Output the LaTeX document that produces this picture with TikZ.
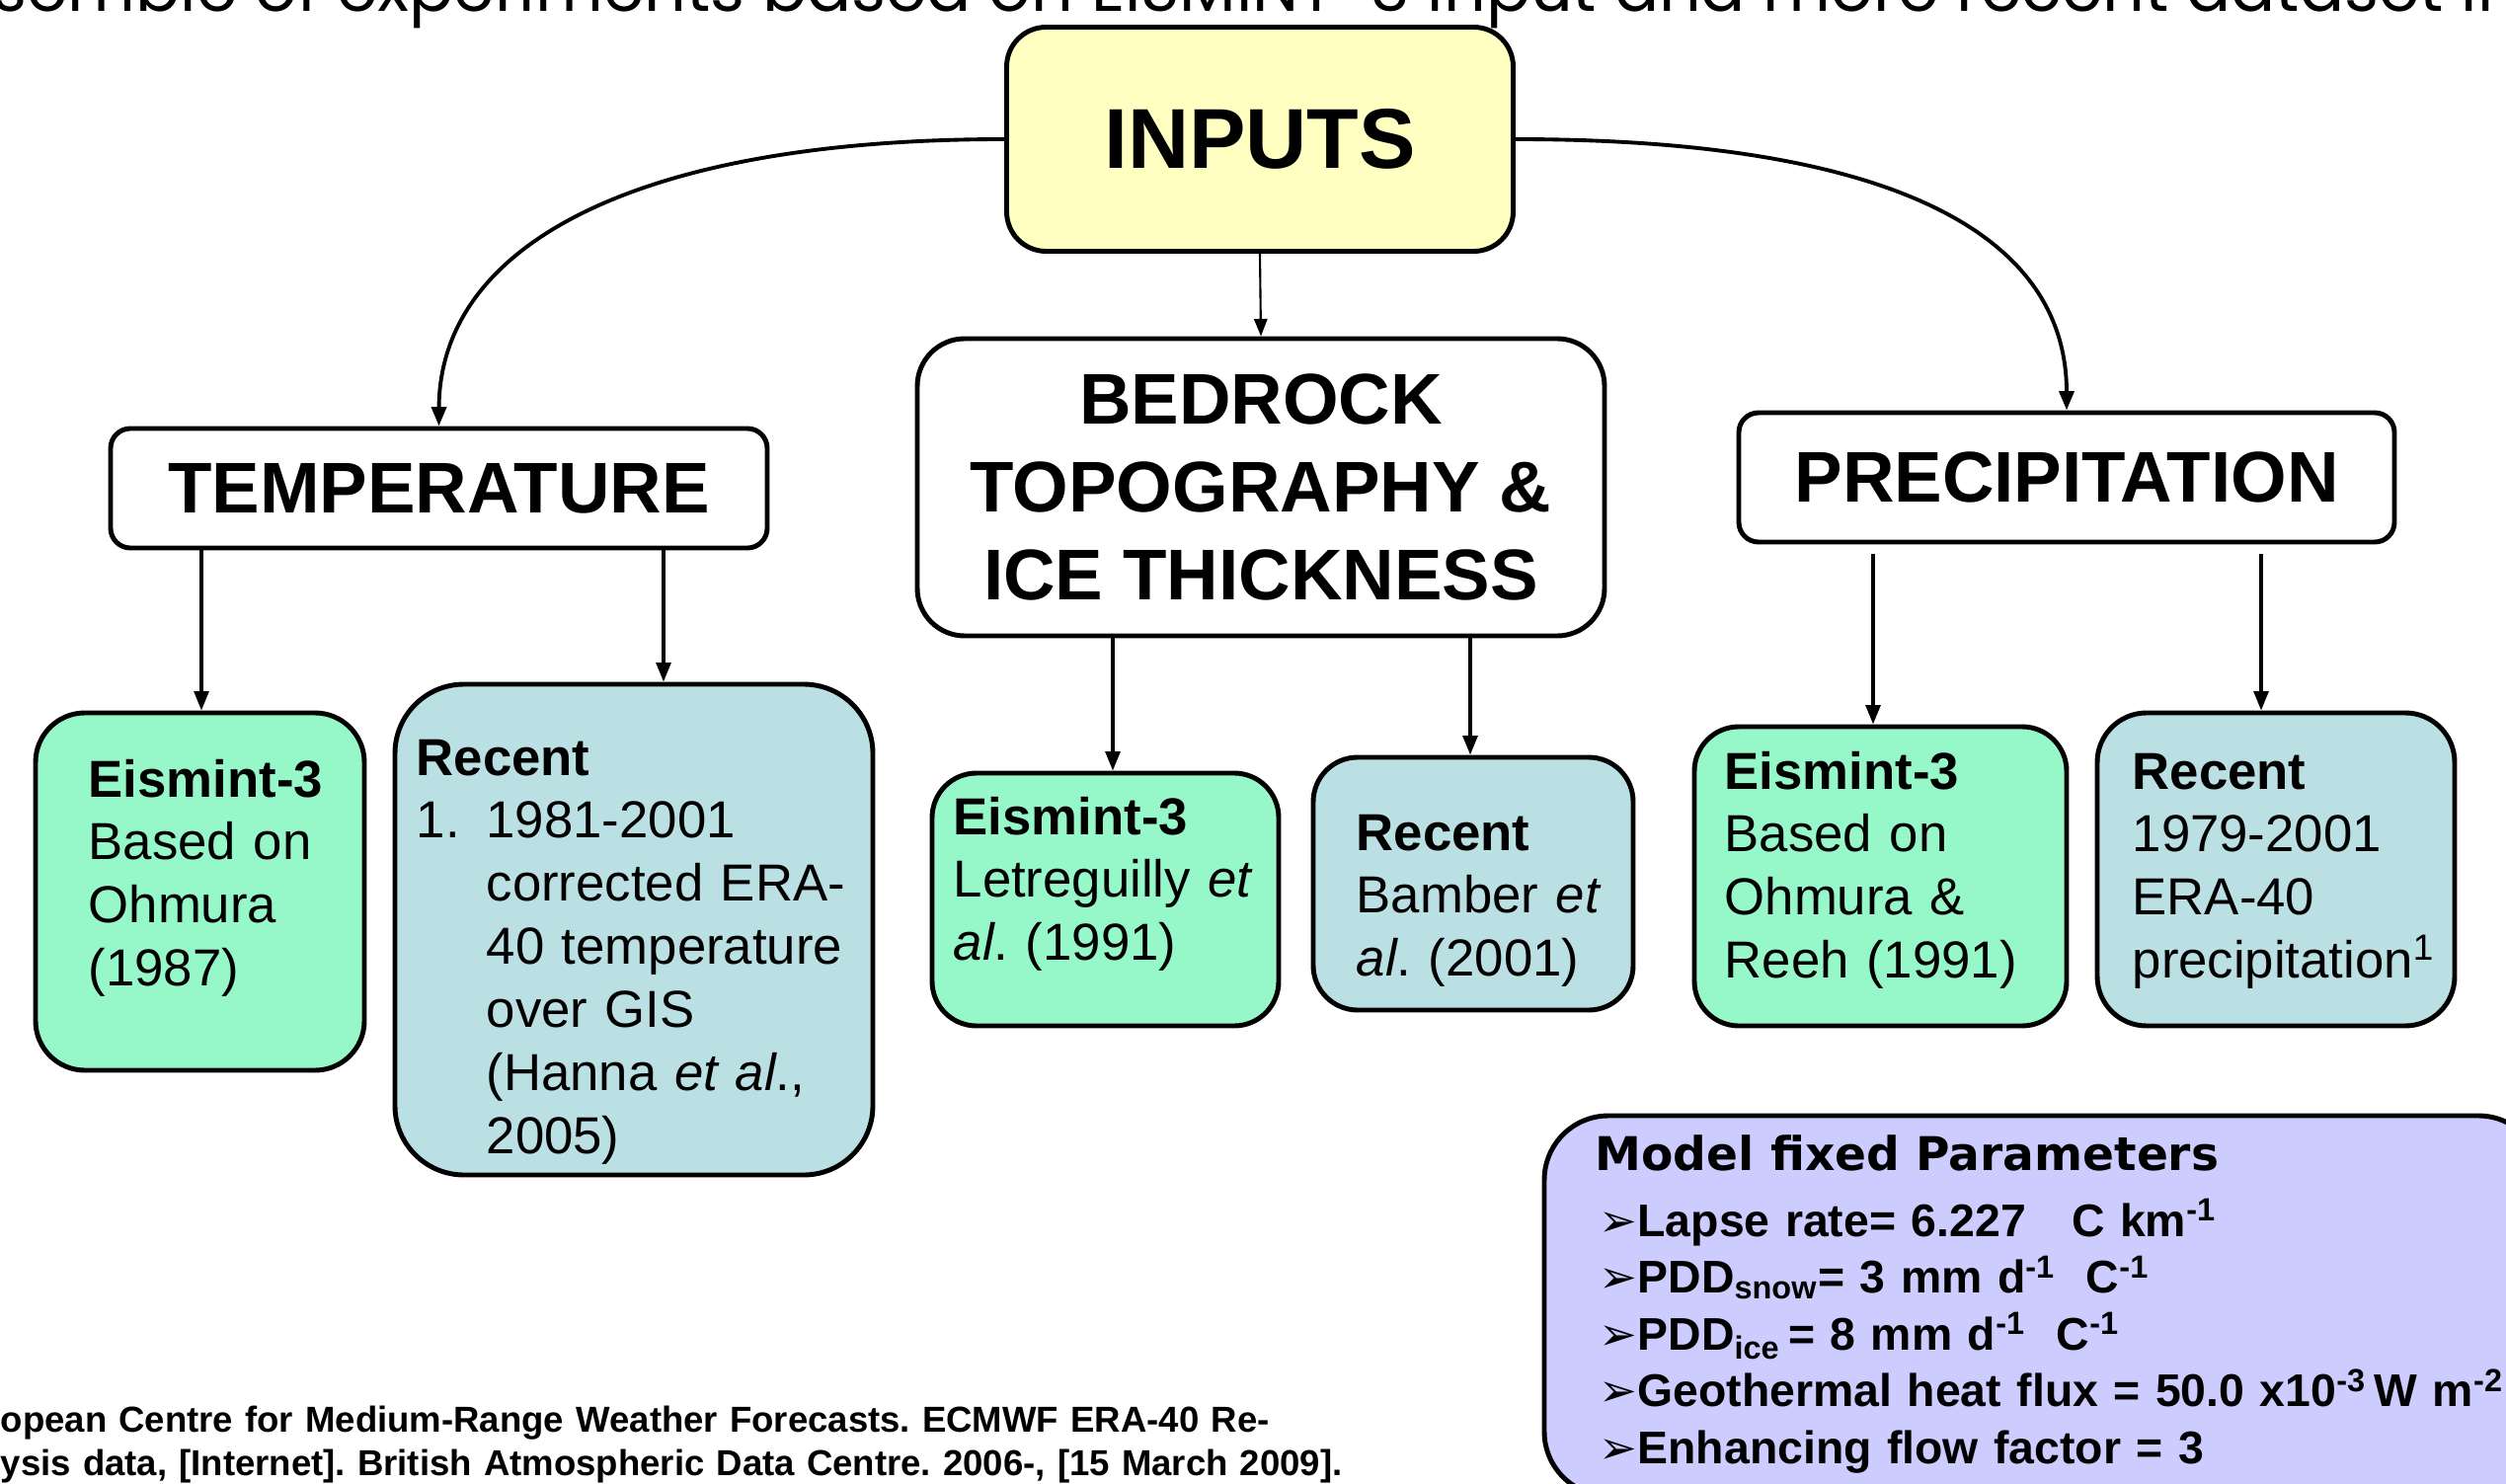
\documentclass[tikz,border=0pt]{standalone}
\usepackage{fontspec}
\setmainfont{Liberation Sans}
\newfontfamily\topfont{Poppins}
\newfontfamily\titlefont{DejaVu Sans}
\newfontfamily\dingfont{DejaVu Sans}
\usetikzlibrary{arrows.meta,calc}
\frenchspacing

\definecolor{inyellow}{HTML}{FFFFC2}
\definecolor{eisgreen}{HTML}{96F8C8}
\definecolor{recblue}{HTML}{BBE0E4}
\definecolor{parlav}{HTML}{CCCCFF}

\newcommand{\bul}{{\dingfont\char"27A2}}

\tikzset{
  box/.style={draw, line width=1.4pt, inner sep=0pt, rounded corners=#1},
  headtext/.style={font=\bfseries\fontsize{20.7}{25.3}\selectfont, align=center},
  bodytext/.style={font=\fontsize{15}{18.2}\selectfont, align=left, inner sep=0pt, anchor=base west},
  arr/.style={line width=0.9pt, -{Triangle[length=5.5pt,width=4.2pt]}},
  curvearr/.style={line width=1.1pt, -{Triangle[length=5.5pt,width=4.2pt]}},
  thinarr/.style={line width=0.6pt, -{Triangle[length=5pt,width=3.8pt]}}
}

\begin{document}
\begin{tikzpicture}[x=0.1mm,y=-0.1mm]
\useasboundingbox (0,0) rectangle (2538,1503);

% running title line at the top edge
\node[font=\topfont\fontsize{19}{22}\selectfont, anchor=base west, inner sep=0pt]
  (toptxt) at (-8,12) {semble of experiments based on EISMINT-3 input and more recent dataset in};

% main boxes
\node[box=4mm, fill=inyellow, minimum width=51.3mm, minimum height=22.7mm,
      font=\bfseries\fontsize{24.5}{28}\selectfont] (inp) at (1276,141) {INPUTS};
\node[box=2mm, fill=white, minimum width=66.5mm, minimum height=12.1mm, headtext]
  (tmp) at (444.5,494.5) {TEMPERATURE};
\node[box=4.8mm, fill=white, minimum width=69.6mm, minimum height=30.1mm, headtext]
  (bed) at (1277,493.5) {BEDROCK\\TOPOGRAPHY \&\\ICE THICKNESS};
\node[box=2mm, fill=white, minimum width=66.4mm, minimum height=13.1mm, headtext]
  (pre) at (2093,483.5) {PRECIPITATION};

% data source boxes
\node[box=5mm, fill=eisgreen, minimum width=33.3mm, minimum height=36.2mm] (et) at (202.5,903) {};
\node[box=7mm, fill=recblue, minimum width=48.4mm, minimum height=49.7mm] (rt) at (642,941.5) {};
\node[box=4.5mm, fill=eisgreen, minimum width=35.1mm, minimum height=25.6mm] (eb) at (1119.5,911) {};
\node[box=4.5mm, fill=recblue, minimum width=32.4mm, minimum height=25.6mm] (rb) at (1492,895) {};
\node[box=4.5mm, fill=eisgreen, minimum width=37.7mm, minimum height=30.3mm] (ep) at (1904.5,887.5) {};
\node[box=5mm, fill=recblue, minimum width=36.2mm, minimum height=31.7mm] (rp) at (2305,880.5) {};

% box texts
\node[bodytext, text width=30mm] (ettx) at (89,807)
  {\textbf{Eismint-3}\\Based on\\Ohmura\\(1987)};
\node[bodytext, text width=46mm] (rttx) at (421,785)
  {\textbf{Recent}\\
   \makebox[7.1mm][l]{1.}1981-2001\\
   \hspace*{7.1mm}corrected ERA-\\
   \hspace*{7.1mm}40 temperature\\
   \hspace*{7.1mm}over GIS\\
   \hspace*{7.1mm}(Hanna \textit{et al}.,\\
   \hspace*{7.1mm}2005)};
\node[bodytext, text width=33mm] (ebtx) at (965,845)
  {\textbf{Eismint-3}\\Letreguilly \textit{et}\\\textit{al}. (1991)};
\node[bodytext, text width=30mm] (rbtx) at (1373,861)
  {\textbf{Recent}\\Bamber \textit{et}\\\textit{al}. (2001)};
\node[bodytext, text width=34mm] (eptx) at (1746,799)
  {\textbf{Eismint-3}\\Based on\\Ohmura \&\\Reeh (1991)};
\node[bodytext, text width=34mm] (rptx) at (2159,799)
  {\textbf{Recent}\\1979-2001\\ERA-40\\precipitation\textsuperscript{1}};

% fixed parameters panel
\node[box=6.5mm, fill=parlav, minimum width=101.1mm, minimum height=38.5mm] (par) at (2069.5,1322.5) {};
\node[anchor=base west, inner sep=0pt, font=\titlefont\bfseries\fontsize{13.4}{16}\selectfont]
  (partitle) at (1615,1185) {Model fixed Parameters};
\node[bodytext, text width=100mm, font=\bfseries\fontsize{13.2}{16.4}\selectfont] (partx) at (1619,1252)
  {\bul Lapse rate= 6.227\ \ \ C km\textsuperscript{-1}\\
   \bul PDD\textsubscript{snow}= 3 mm d\textsuperscript{-1}\ \ C\textsuperscript{-1}\\
   \bul PDD\textsubscript{ice}\,= 8 mm d\textsuperscript{-1}\ \ C\textsuperscript{-1}\\
   \bul Geothermal heat flux = 50.0 x10\textsuperscript{-3}\,W m\textsuperscript{-2}\\
   \bul Enhancing flow factor = 3};

% reference note
\node[bodytext, text width=150mm, font=\bfseries\fontsize{10.4}{12.6}\selectfont] (note) at (0,1450)
  {opean Centre for Medium-Range Weather Forecasts. ECMWF ERA-40 Re-\\
   ysis data, [Internet]. British Atmospheric Data Centre. 2006-, [15 March 2009].};

% connectors
\draw[curvearr] (inp.west) .. controls (640,141) and (445,250) .. (tmp.north);
\draw[curvearr] (inp.east) .. controls (1912,141) and (2093,235) .. (pre.north);
\draw[thinarr] (inp.south) -- (bed.north);

\draw[arr] (tmp.south -| 204,0) -- (et.north -| 204,0);
\draw[arr] (tmp.south -| 672,0) -- (rt.north -| 672,0);
\draw[arr] (bed.south -| 1127,0) -- (eb.north -| 1127,0);
\draw[arr] (bed.south -| 1489,0) -- (rb.north -| 1489,0);
\draw[arr] ([yshift=-1mm]pre.south -| 1897,0) -- (ep.north -| 1897,0);
\draw[arr] ([yshift=-1mm]pre.south -| 2290,0) -- (rp.north -| 2290,0);
\end{tikzpicture}
\end{document}
